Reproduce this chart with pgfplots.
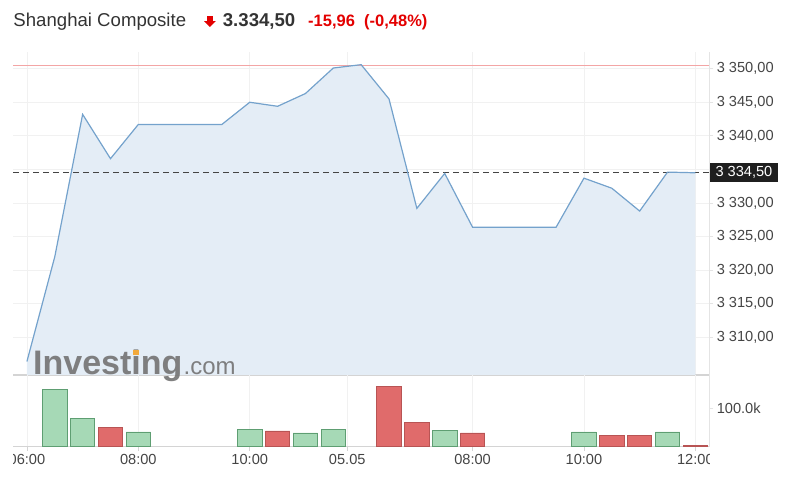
\documentclass[border=0pt]{standalone}
\usepackage{pgfplots}
\usepackage{pgfplotstable}
\pgfplotsset{compat=1.18}
\usepackage{fontspec}
\setmainfont{Liberation Sans}
\definecolor{titlegray}{HTML}{333333}
\definecolor{redtxt}{HTML}{E30000}
\definecolor{pline}{HTML}{74A2CC}
\definecolor{pfill}{HTML}{E4EDF6}
\definecolor{closeline}{RGB}{243,165,165}
\definecolor{gridc}{HTML}{F1F1F1}
\definecolor{axisb}{HTML}{D4D4D4}
\definecolor{axisr}{HTML}{E4E4E4}
\definecolor{lblgray}{HTML}{444444}
\definecolor{gfill}{HTML}{A6D9B6}
\definecolor{gdraw}{HTML}{5E9E72}
\definecolor{rfill}{HTML}{E06B6B}
\definecolor{rdraw}{HTML}{B85454}
\definecolor{dashc}{HTML}{444444}
\definecolor{wm}{HTML}{737373}
\definecolor{wmorange}{HTML}{F2A93B}

\pgfplotstableread{
x y
0 3306.4
1 3322.0
2 3343.2
3 3336.6
4 3341.7
7 3341.7
8 3345.0
9 3344.4
10 3346.3
11 3350.1
12 3350.6
13 3345.5
14 3329.2
15 3334.4
16 3326.4
19 3326.4
20 3333.7
21 3332.2
22 3328.8
23 3334.6
24 3334.5
}\price

\pgfplotstableread{
x y
-0.5 3350.46
24.5 3350.46
}\prevclose

\pgfplotstableread{
x v
1 149.5
2 74.0
4 38.3
8 44.3
10 35.7
11 44.3
15 41.7
20 38.3
23 38.3
}\greenvol

\pgfplotstableread{
x v
3 50.5
9 40.9
13 156.0
14 64.3
16 35.7
21 28.6
22 28.6
24 2.6
}\redvol

\pgfplotsset{
  every tick label/.append style={font=\fontsize{14.6bp}{16bp}\selectfont, text=lblgray},
}

\begin{document}
\begin{tikzpicture}
% ---------------- price panel
\begin{axis}[
  at={(13bp,115bp)}, anchor=south west,
  width=696.3bp, height=323.3bp, scale only axis,
  xmin=-0.5, xmax=24.5, ymin=3304.39, ymax=3352.53,
  axis x line*=bottom, axis y line*=right,
  x axis line style={draw=axisb, line width=1.6bp, -},
  y axis line style={draw=axisr, line width=1bp, -},
  xtick={0,4,8,11.5,16,20,24}, xticklabels={,,,,,,},
  xtick style={draw=none},
  ytick={3310,3315,3320,3325,3330,3335,3340,3345,3350},
  yticklabels={{3 310,00},{3 315,00},{3 320,00},{3 325,00},{3 330,00},{},{3 340,00},{3 345,00},{3 350,00}},
  tick align=outside, major tick length=4bp,
  ytick style={draw=axisr, line width=0.8bp},
  xmajorgrids, ymajorgrids,
  grid style={draw=gridc, line width=0.8bp},
  /pgf/number format/assume math mode=true,
]
\addplot[draw=none, fill=pfill] table[x=x,y=y]{\price} \closedcycle;
\addplot[mark=none, solid, draw=closeline, line width=1.2bp] table[x=x,y=y]{\prevclose};
\addplot[draw=dashc, line width=1bp, dash pattern=on 6bp off 4bp] coordinates {(-0.5,3334.5) (24.5,3334.5)};
\addplot[draw=pline, line width=1.2bp] table[x=x,y=y]{\price};
\coordinate (lastp) at (axis cs:24.5,3334.5);
\end{axis}
% ---------------- volume panel
\begin{axis}[
  at={(13bp,43.3bp)}, anchor=south west,
  width=696.3bp, height=71.7bp, scale only axis,
  xmin=-0.5, xmax=24.5, ymin=0, ymax=186.7,
  axis x line*=bottom, axis y line*=right,
  x axis line style={draw=axisb, line width=1.2bp, -},
  y axis line style={draw=axisr, line width=1bp, -},
  xtick={0,4,8,11.5,16,20,24}, xticklabels={,,,,,,},
  ytick={100}, yticklabels={100.0k},
  tick align=outside, major tick length=4bp,
  xtick style={draw=axisb, line width=0.8bp},
  ytick style={draw=axisr, line width=0.8bp},
  xmajorgrids,
  grid style={draw=gridc, line width=0.8bp},
]
\addplot[ybar, bar width=0.88, bar shift=0pt, fill=gfill, draw=gdraw, line width=0.9bp] table[x=x,y=v]{\greenvol};
\addplot[ybar, bar width=0.88, bar shift=0pt, fill=rfill, draw=rdraw, line width=0.9bp] table[x=x,y=v]{\redvol};
\end{axis}
% ---------------- x tick labels (clipped to the plot width)
\begin{scope}
\clip (13bp,0bp) rectangle (709.3bp,490bp);
\begin{axis}[
  at={(13bp,43.3bp)}, anchor=south west,
  width=696.3bp, height=71.7bp, scale only axis,
  xmin=-0.5, xmax=24.5, ymin=0, ymax=186.7,
  axis x line*=bottom, axis y line=none,
  x axis line style={draw=none},
  xtick={0,4,8,11.5,16,20,24},
  xticklabels={06:00,08:00,10:00,05.05,08:00,10:00,12:00},
  xtick style={draw=none}, ytick=\empty,
  xticklabel style={yshift=-4bp},
]
\end{axis}
\end{scope}
% ---------------- last price label
\node[fill=black!88, text=white, anchor=west, inner xsep=6bp, inner ysep=3.5bp,
      font=\fontsize{14.6bp}{16bp}\selectfont] at (lastp) {3 334,50};
% ---------------- watermark
\node[anchor=base west, inner sep=0, text=wm, opacity=0.9,
      font=\fontsize{34bp}{34bp}\selectfont\bfseries] at (33bp,115.5bp) {Investing};
\node[anchor=base west, inner sep=0, text=wm, opacity=0.9,
      font=\fontsize{24bp}{24bp}\selectfont] at (183.5bp,115.5bp) {.com};
\fill[wmorange] (133.4bp,135.0bp) rectangle (138.6bp,139.9bp);
% ---------------- title
\node[anchor=base west, inner sep=0, text=titlegray, font=\fontsize{18.6bp}{20bp}\selectfont] at (13.3bp,463.5bp) {Shanghai Composite};
\fill[redtxt] (207.3bp,474bp) rectangle (212.6bp,468.5bp);
\fill[redtxt] (204bp,468.8bp) -- (215.8bp,468.8bp) -- (209.9bp,463bp) -- cycle;
\node[anchor=base west, inner sep=0, text=titlegray, font=\fontsize{18.6bp}{20bp}\selectfont\bfseries] at (222.7bp,463.5bp) {3.334,50};
\node[anchor=base west, inner sep=0, text=redtxt, font=\fontsize{16.5bp}{20bp}\selectfont\bfseries] at (308bp,463.5bp) {-15,96};
\node[anchor=base west, inner sep=0, text=redtxt, font=\fontsize{16.5bp}{20bp}\selectfont\bfseries] at (364bp,463.5bp) {(-0,48\%)};
\pgfresetboundingbox
\useasboundingbox (0bp,0bp) rectangle (793bp,490bp);
\end{tikzpicture}
\end{document}
